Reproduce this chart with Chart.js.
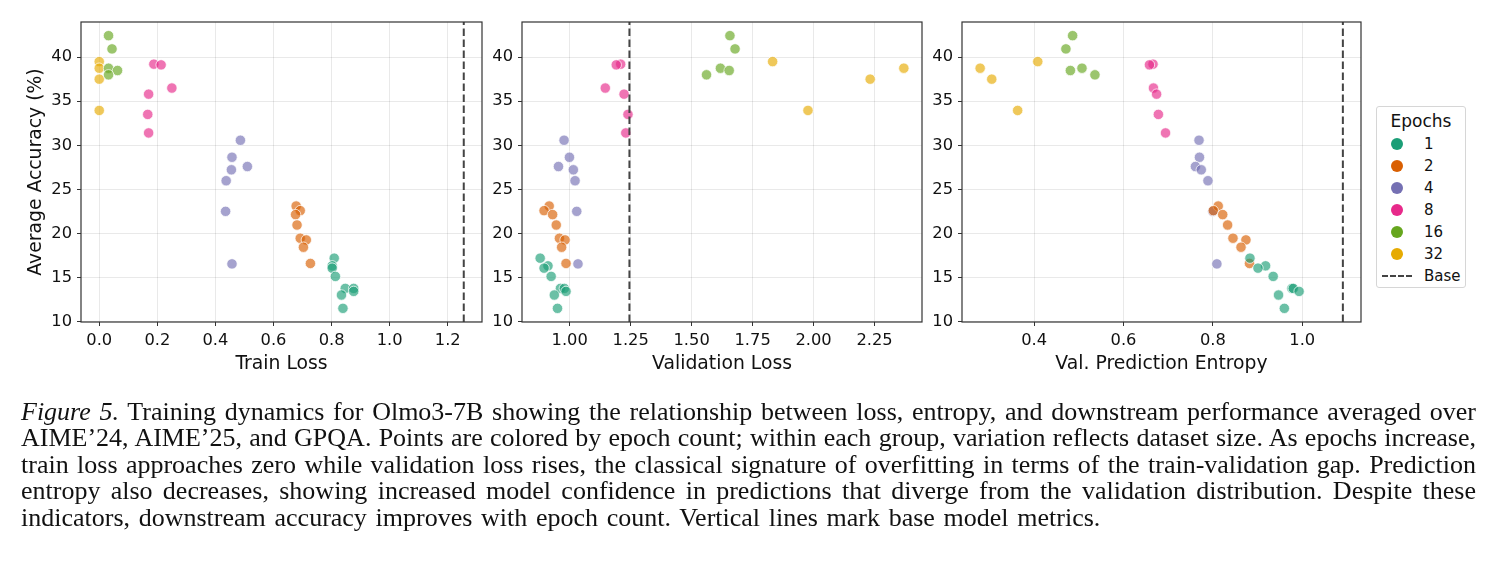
<!DOCTYPE html>
<html lang="en">
<head>
<meta charset="UTF-8">
<title>Figure 5 - Training dynamics for Olmo3-7B</title>
<script src="https://cdn.jsdelivr.net/npm/chart.js"></script>
<style>
  body {
    margin: 0;
    background: #fff;
    width: 1494px;
    height: 566px;
    position: relative;
    overflow: hidden;
    font-family: 'DejaVu Sans', sans-serif;
  }
  canvas.panel { position: absolute; top: 0; }
  #legend {
    position: absolute;
    left: 1376px; top: 106px;
    width: 88px; height: 180px;
    border: 1px solid #d6d6d6;
    border-radius: 3px;
    color: #111;
  }
  #legend .ltitle {
    position: absolute; left: 0; right: 0; top: 4px;
    text-align: center; font-size: 17px; line-height: 20px;
  }
  #legend .item { position: absolute; left: 0; height: 22px; width: 88px; }
  #legend .dot {
    position: absolute; left: 14px; top: 5px;
    width: 12px; height: 12px; border-radius: 50%;
  }
  #legend .dash {
    position: absolute; left: 5px; top: 10px; width: 30px; height: 0;
    border-top: 2px dashed #444;
  }
  #legend .lab { position: absolute; left: 47px; top: 0; font-size: 15px; line-height: 22px; }
  #caption {
    position: absolute;
    left: 21px; top: 399px;
    width: 1455px;
    font-family: 'Liberation Serif', 'Times New Roman', serif;
    font-size: 26px;
    line-height: 26.4px;
    color: #111;
  }
  #caption div { text-align: justify; text-align-last: justify; white-space: nowrap; }
  #caption div.last { text-align-last: left; word-spacing: 2.2px; }
</style>
</head>
<body>
<canvas id="c1" class="panel" width="488" height="400" style="left:0px"></canvas>
<canvas id="c2" class="panel" width="446" height="400" style="left:482px"></canvas>
<canvas id="c3" class="panel" width="445" height="400" style="left:922px"></canvas>
<div id="legend"></div>
<div id="caption">
  <div><i>Figure 5.</i> Training dynamics for Olmo3-7B showing the relationship between loss, entropy, and downstream performance averaged over</div>
  <div>AIME’24, AIME’25, and GPQA. Points are colored by epoch count; within each group, variation reflects dataset size. As epochs increase,</div>
  <div>train loss approaches zero while validation loss rises, the classical signature of overfitting in terms of the train-validation gap. Prediction</div>
  <div>entropy also decreases, showing increased model confidence in predictions that diverge from the validation distribution. Despite these</div>
  <div class="last">indicators, downstream accuracy improves with epoch count. Vertical lines mark base model metrics.</div>
</div>

<script>
// ---- data ----
const epochs = ['1', '2', '4', '8', '16', '32'];
const colors = ['#1b9e77', '#d95f02', '#7570b3', '#e7298a', '#66a61e', '#e6ab02'];

// average accuracy (%) per run, grouped by epoch count
const acc1  = [17.2, 16.33, 16.07, 15.13, 13.77, 13.77, 13.43, 13.02, 11.51];
const acc2  = [23.11, 22.59, 22.14, 20.96, 19.46, 19.27, 18.44, 16.6];
const acc4  = [30.57, 28.64, 27.59, 27.22, 25.98, 22.51, 16.55];
const acc8  = [39.2, 39.12, 36.49, 35.8, 33.5, 31.4];
const acc16 = [42.43, 40.93, 38.74, 38.48, 37.99];
const acc32 = [39.49, 38.74, 37.5, 33.95];

// train loss
const train1  = [0.809, 0.802, 0.802, 0.813, 0.847, 0.876, 0.876, 0.834, 0.839];
const train2  = [0.678, 0.692, 0.676, 0.681, 0.692, 0.713, 0.703, 0.727];
const train4  = [0.486, 0.457, 0.510, 0.455, 0.437, 0.435, 0.457];
const train8  = [0.188, 0.213, 0.250, 0.170, 0.167, 0.170];
const train16 = [0.032, 0.044, 0.032, 0.063, 0.032];
const train32 = [0.0, 0.0, 0.0, 0.0];

// validation loss
const val1  = [0.879, 0.911, 0.895, 0.924, 0.962, 0.978, 0.985, 0.937, 0.950];
const val2  = [0.916, 0.895, 0.930, 0.945, 0.958, 0.981, 0.967, 0.985];
const val4  = [0.977, 0.999, 0.954, 1.015, 1.022, 1.029, 1.034];
const val8  = [1.209, 1.191, 1.146, 1.223, 1.239, 1.230];
const val16 = [1.657, 1.678, 1.618, 1.654, 1.561];
const val32 = [1.832, 2.370, 2.232, 1.977];

// validation prediction entropy
const ent1  = [0.883, 0.918, 0.901, 0.935, 0.977, 0.980, 0.993, 0.947, 0.960];
const ent2  = [0.812, 0.801, 0.822, 0.833, 0.845, 0.874, 0.863, 0.882];
const ent4  = [0.769, 0.770, 0.761, 0.774, 0.789, 0.800, 0.809];
const ent8  = [0.666, 0.658, 0.667, 0.674, 0.678, 0.694];
const ent16 = [0.486, 0.471, 0.507, 0.481, 0.536];
const ent32 = [0.408, 0.279, 0.305, 0.363];

// base model metrics (vertical lines)
const baseTrain = 1.255;
const baseVal = 1.245;
const baseEnt = 1.091;

const yTicks = [10, 15, 20, 25, 30, 35, 40];
const trainTicks = [0.0, 0.2, 0.4, 0.6, 0.8, 1.0, 1.2];
const valTicks = [1.0, 1.25, 1.5, 1.75, 2.0, 2.25];
const entTicks = [0.4, 0.6, 0.8, 1.0];

const accGroups = [acc1, acc2, acc4, acc8, acc16, acc32];
const yMin = 9.96, yMax = 43.98;

function hexA(hex, a) {
  const n = parseInt(hex.slice(1), 16);
  return `rgba(${n >> 16},${(n >> 8) & 255},${n & 255},${a})`;
}

// draws the four spines round the plot area
const framePlugin = {
  id: 'frame',
  afterDraw(chart) {
    const a = chart.chartArea, c = chart.ctx;
    c.save();
    c.strokeStyle = '#333';
    c.lineWidth = 1.2;
    c.strokeRect(a.left, a.top, a.right - a.left, a.bottom - a.top);
    c.restore();
  }
};

function makePanel(id, xGroups, base, xmin, xmax, xticks, decimals, xlabel, yWidth, showYTitle) {
  const datasets = [{
    label: 'Base',
    data: [{x: base, y: yMin}, {x: base, y: yMax}],
    showLine: true,
    borderColor: '#444',
    borderWidth: 2,
    borderDash: [7.5, 3.5],
    pointRadius: 0,
    order: 0
  }];
  accGroups.forEach((accs, g) => {
    datasets.push({
      label: epochs[g],
      data: accs.map((a, i) => ({x: xGroups[g][i], y: a})),
      backgroundColor: hexA(colors[g], 0.65),
      borderColor: 'rgba(255,255,255,0.9)',
      borderWidth: 0.8,
      pointRadius: 5.2,
      order: 1
    });
  });

  return new Chart(document.getElementById(id), {
    type: 'scatter',
    data: { datasets: datasets },
    plugins: [framePlugin],
    options: {
      responsive: false,
      animation: false,
      events: [],
      layout: { padding: { top: 22, right: 2, left: 0, bottom: 0 } },
      plugins: { legend: { display: false }, tooltip: { enabled: false } },
      scales: {
        x: {
          type: 'linear',
          min: xmin, max: xmax,
          afterBuildTicks: s => { s.ticks = xticks.map(v => ({value: v})); },
          afterFit: s => { s.height = 78; },
          grid: { color: 'rgba(0,0,0,0.085)', tickColor: '#333', tickLength: 4, lineWidth: 1 },
          border: { display: false },
          ticks: {
            color: '#111', padding: 4.5, maxRotation: 0,
            font: { family: 'DejaVu Sans', size: 16.3 },
            callback: v => Number(v).toFixed(decimals)
          },
          title: {
            display: true, text: xlabel, color: '#111',
            font: { family: 'DejaVu Sans', size: 18.8 },
            padding: { top: 0, bottom: 25 }
          }
        },
        y: {
          type: 'linear',
          min: yMin, max: yMax,
          afterBuildTicks: s => { s.ticks = yTicks.map(v => ({value: v})); },
          afterFit: s => { s.width = yWidth; },
          grid: { color: 'rgba(0,0,0,0.085)', tickColor: '#333', tickLength: 4, lineWidth: 1 },
          border: { display: false },
          ticks: {
            color: '#111', padding: 5,
            font: { family: 'DejaVu Sans', size: 16.3 },
            callback: v => String(v)
          },
          title: {
            display: showYTitle, text: 'Average Accuracy (%)', color: '#111',
            font: { family: 'DejaVu Sans', size: 18.8 },
            padding: { top: 25, bottom: 0 }
          }
        }
      }
    }
  });
}

makePanel('c1', [train1, train2, train4, train8, train16, train32], baseTrain,
  -0.0628, 1.3178, trainTicks, 1, 'Train Loss', 81, true);
makePanel('c2', [val1, val2, val4, val8, val16, val32], baseVal,
  0.8045, 2.4445, valTicks, 2, 'Validation Loss', 40, false);
makePanel('c3', [ent1, ent2, ent4, ent8, ent16, ent32], baseEnt,
  0.2384, 1.1316, entTicks, 1, 'Val. Prediction Entropy', 40, false);

// legend box
const legend = document.getElementById('legend');
legend.innerHTML = '<div class="ltitle">Epochs</div>';
epochs.forEach((e, i) => {
  legend.innerHTML += `<div class="item" style="top:${26.3 + i * 22}px">` +
    `<span class="dot" style="background:${colors[i]}"></span><span class="lab">${e}</span></div>`;
});
legend.innerHTML += `<div class="item" style="top:158px">` +
  '<span class="dash"></span><span class="lab">Base</span></div>';
</script>
</body>
</html>
